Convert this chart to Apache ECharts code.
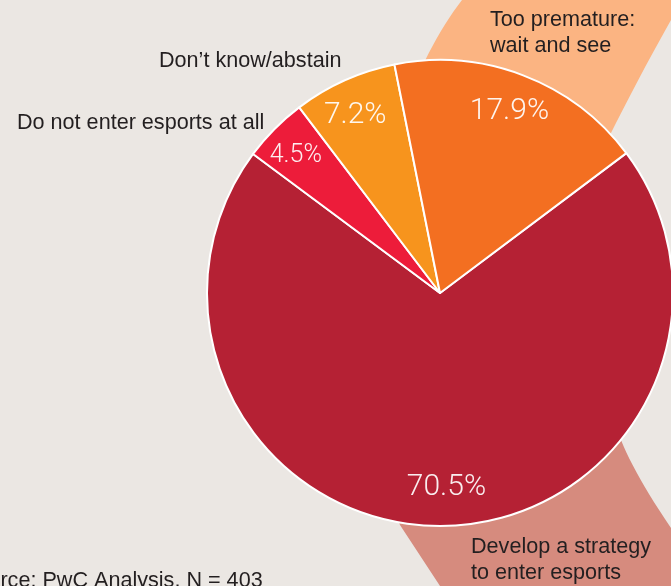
<!DOCTYPE html>
<html>
<head>
<meta charset="utf-8">
<script src="https://cdn.jsdelivr.net/npm/echarts@6/dist/echarts.min.js"></script>
<style>
html,body{margin:0;padding:0;background:#ebe7e3;}
#chart{width:671px;height:586px;}
</style>
</head>
<body>
<div id="chart"></div>
<script>
// Data
const categories = ['Develop a strategy to enter esports', 'Do not enter esports at all', 'Don\u2019t know/abstain', 'Too premature: wait and see'];
const shares = [70.5, 4.5, 7.2, 17.9];
const sliceColors = ['#b52134', '#ed1c3a', '#f7941d', '#f36f21'];
const valueLabelSizes = [30, 25, 30, 30];
const sourceNote = 'Source: PwC Analysis, N = 403';

const chart = echarts.init(document.getElementById('chart'));
const FONT = '"Liberation Sans", Arial, Helvetica, sans-serif';
const TXT = '#231f20';

// decorative ribbon outlines (quadratic curves sampled into polygons)
function quad(p0, c, p1, n) {
  const pts = [];
  for (let i = 0; i <= n; i++) {
    const t = i / n, u = 1 - t;
    pts.push([u * u * p0[0] + 2 * u * t * c[0] + t * t * p1[0], u * u * p0[1] + 2 * u * t * c[1] + t * t * p1[1]]);
  }
  return pts;
}
const topBand = [[400, 130]]
  .concat(quad([414, 85], [435, 35], [462, 0], 12))
  .concat([[671, 0]])
  .concat(quad([671, 20], [640, 75], [611, 133], 12))
  .concat([[570, 200]]);
const bottomBand = [[600, 400]]
  .concat(quad([621, 440], [635, 475], [671, 528], 12))
  .concat([[671, 586], [440, 586], [400, 525], [380, 480]]);

const labelPads = [[0, 0, 0, 12], [2, 12, 0, 0], [4, 10, 0, 0], [4, 0, 0, 0]];
const pieData = categories.map((c, i) => ({
  name: c, value: shares[i], itemStyle: { color: sliceColors[i] }
}));
const labelData = categories.map((c, i) => ({
  name: c, value: shares[i],
  label: { fontSize: valueLabelSizes[i], padding: labelPads[i] }
}));

function txt(text, x, y) {
  return {
    type: 'text', x: x, y: y, z: 20,
    style: { text: text, font: '21.6px ' + FONT, fill: TXT, verticalAlign: 'middle', align: 'left' }
  };
}

chart.setOption({
  backgroundColor: '#ebe7e3',
  animation: false,
  graphic: [
    { type: 'polygon', z: -10, shape: { points: topBand }, style: { fill: '#fbb482' } },
    { type: 'polygon', z: -10, shape: { points: bottomBand }, style: { fill: '#d68b7e' } },
    txt('Too premature:', 490, 20),
    txt('wait and see', 490, 46),
    txt('Don\u2019t know/abstain', 159, 61),
    txt('Do not enter esports at all', 17, 123),
    txt('Develop a strategy', 471, 547),
    txt('to enter esports', 471, 573),
    txt(sourceNote, -38, 581)
  ],
  series: [
    {
      type: 'pie',
      center: [440, 293],
      radius: [0, 233],
      startAngle: 36.9,
      clockwise: true,
      avoidLabelOverlap: false,
      label: { show: false },
      labelLine: { show: false },
      itemStyle: { borderColor: '#ffffff', borderWidth: 2 },
      emphasis: { disabled: true },
      silent: true,
      z: 2,
      data: pieData
    },
    {
      type: 'pie',
      center: [440, 293],
      radius: [150, 233],
      startAngle: 36.9,
      clockwise: true,
      avoidLabelOverlap: false,
      itemStyle: { color: 'rgba(0,0,0,0)', borderWidth: 0 },
      label: {
        show: true, position: 'inside',
        formatter: p => p.value.toFixed(1) + '%',
        color: 'rgba(255,255,255,0.92)',
        fontFamily: 'Roboto, "Liberation Sans", sans-serif', fontWeight: 300
      },
      labelLine: { show: false },
      emphasis: { disabled: true },
      silent: true,
      z: 3,
      data: labelData
    }
  ]
});
</script>
</body>
</html>
